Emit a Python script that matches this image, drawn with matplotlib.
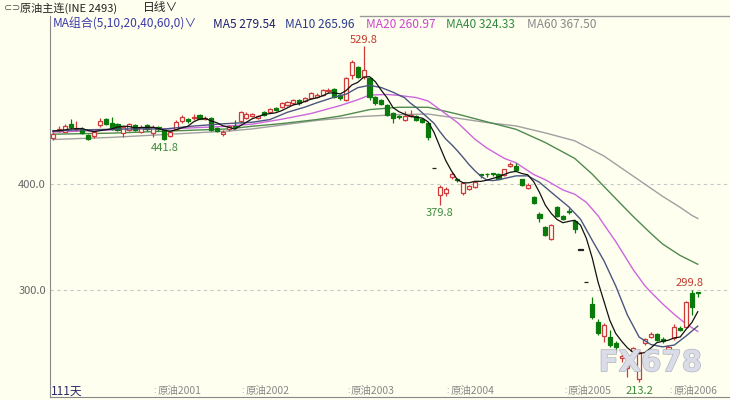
import numpy as np
import matplotlib
matplotlib.use("Agg")
import matplotlib.pyplot as plt
import matplotlib.patheffects as pe

plt.rcParams['font.family'] = ['Noto Sans CJK SC', 'DejaVu Sans']

# daily candles, 111 days (open, close, high, low)
opens = [443, 450, 449.5, 457, 451.5, 452, 446, 445, 455.5, 461,
         457.2, 457, 448, 451, 455.5, 449.5, 455.5, 448, 454, 451,
         445, 452, 459, 461.5, 462, 465, 461.5, 462, 452.5, 447,
         451.5, 455, 459, 462, 464, 462, 468, 468, 471.5, 473,
         474.5, 476, 479, 478.5, 480.8, 482.4, 484, 488, 489.8, 484,
         479.2, 502.8, 510, 500.6, 499.7, 482, 479, 474.5, 466.7, 463.8,
         460.4, 464, 464, 461, 457.2, 415, 389.6, 391.5, 406.3, 405,
         391.2, 395.6, 397.5, 409, 409.5, 410, 409, 408.5, 417, 417,
         404.5, 396, 388, 371.8, 359, 347.8, 378, 369.8, 374.5, 365.4,
         338, 307.5, 286.8, 270.1, 256.6, 255.3, 249.7, 235.5, 226, 242.8,
         216, 249.7, 256, 258.5, 254, 242.8, 254.4, 263.8, 265.4, 296.9,
         298.4]
closes = [447.5, 452, 455, 453.5, 453, 448.5, 442.5, 449, 459, 457,
          452.5, 451, 453.5, 457, 451, 454, 451.5, 454, 451.5, 442.5,
          449, 458.8, 463, 459, 463.5, 461.7, 462.5, 450.9, 450, 449.5,
          454.5, 454, 467.7, 466, 466, 464, 465, 471, 470, 476,
          477.5, 479.2, 476, 481.5, 486, 484, 488.7, 489, 482.4, 480.8,
          499.7, 515.4, 501.3, 507.5, 482.4, 476, 475.5, 465, 462, 463,
          464, 465, 460.4, 458.8, 444.6, 415, 397.5, 395, 409, 403.5,
          400.6, 397.8, 402, 408.5, 409, 409.2, 405, 413.8, 418.5, 413,
          399, 399, 382, 367.7, 352, 361, 370, 367, 373.9, 357.3,
          338, 307.5, 274.2, 259.7, 267, 248.1, 246.5, 237.7, 228, 245,
          241.8, 253.5, 258.5, 252.8, 252, 246.5, 264.8, 262.3, 289, 284.3,
          297.5]
highs = [449, 455, 457, 461, 459, 454, 447, 450, 462, 462,
         463.5, 458, 455, 458, 457, 456, 457, 456, 455, 452,
         450, 460, 465, 462.5, 466, 466, 464, 463, 453.5, 451,
         456, 460, 469, 467.5, 467, 465, 469, 472, 472.5, 477,
         478.5, 480, 480, 482.5, 487, 486, 490, 491, 491, 485,
         501, 517, 511, 529.8, 500.5, 483, 480, 475.5, 467.5, 465,
         469, 470, 465, 462, 458, 415, 399, 397, 411, 406,
         401.5, 399, 403, 409.5, 410, 410.5, 410, 414.5, 421, 420,
         405, 401, 389, 374, 360, 362, 379, 371, 377, 366.5,
         338, 307.5, 293.7, 272.5, 268.5, 262.3, 251.9, 240.9, 236, 245.9,
         243, 255, 260, 259.5, 255.5, 248, 268, 266, 290, 299.8,
         298.5]
lows = [442, 449, 449, 452, 450, 447, 442, 443.5, 454, 456,
        451, 450, 444.6, 450, 450, 448, 450, 444.6, 450, 441.8,
        444, 451, 458, 458, 460, 461, 460, 450, 449, 445.5,
        450, 452, 458, 461, 463, 461, 464, 467, 469, 472,
        473.5, 475, 475, 477.5, 480, 481.5, 483, 486, 481.5, 479.5,
        478, 499, 500, 499, 479, 475, 474.5, 464, 458, 461.5,
        459.5, 463, 459.5, 458, 442, 415, 379.8, 389, 405, 402,
        390, 394, 396.5, 406, 407, 407.5, 404.5, 408, 416, 412,
        398.5, 395, 381.5, 364.5, 351, 347.5, 369, 366, 372, 353.5,
        338, 307.5, 273, 257.5, 251.3, 246.5, 241.8, 232.4, 218, 239.6,
        213.2, 248, 255, 251.5, 250.5, 239.6, 253, 261, 264, 276,
        293]

# moving average lines
ma5_val = [450, 450.5, 451, 452, 452.2, 452.4, 450.5, 449.3, 450.4, 451.2,
           452, 453.7, 454.6, 454.2, 453, 453.3, 453.4, 453.5, 452.4, 450.7,
           449.7, 451.2, 453, 454.5, 458.7, 461.2, 461.9, 459.5, 457.7, 454.9,
           453.5, 451.8, 455.1, 458.3, 461.6, 463.5, 465.7, 466.4, 467.2, 469.2,
           471.9, 474.7, 475.7, 478, 480, 481.3, 483.2, 485.8, 486, 485,
           488.1, 493.5, 495.9, 500.9, 501.3, 496.5, 488.5, 481.3, 472.2, 468.3,
           465.9, 463.8, 462.9, 462.2, 458.6, 448.8, 435.3, 422.2, 412.2, 404,
           401.1, 401.2, 402.6, 402.5, 403.6, 405.3, 406.7, 409.1, 411.1, 411.9,
           409.9, 408.7, 402.3, 392.1, 380, 372.3, 366.5, 363.5, 364.8, 365.8,
           361.2, 348.7, 330.2, 307.3, 289.3, 271.3, 259.1, 251.8, 245.5, 241,
           239.8, 241.2, 245.4, 250.3, 251.7, 252.7, 254.9, 255.7, 262.9, 269.4,
           279.54]
ma10_idx = [0, 4, 9, 14, 19, 24, 29, 34, 37, 40, 43, 45, 48, 50, 52, 54, 56, 58, 60,
            61, 62, 63, 65, 66, 67, 68, 69, 70, 71, 72, 73, 74, 75, 76, 79, 81, 83,
            86, 88, 90, 92, 94, 96, 98, 100, 102, 104, 106, 108, 110]
ma10_val = [450, 451, 451.5, 452.1, 451.9, 454.7, 456.8, 458.3, 460.8, 467.7, 472.6,
            476.6, 482, 484.7, 490.9, 493.1, 491, 486.6, 481.3, 476.2, 472.1, 467.2,
            457.3, 449.5, 442.5, 437.2, 431.3, 424.9, 418.2, 412.4, 407.4, 403.8,
            403.2, 404, 407.7, 407.7, 401.6, 387.6, 378.5, 366.8, 346.9, 327.6,
            303.9, 276.4, 255.6, 248.6, 246.4, 248.1, 256.6, 265.96]
ma20_idx = [0, 10, 19, 29, 34, 39, 44, 49, 52, 54, 57, 59, 62, 64, 66, 69, 72, 74,
            77, 79, 82, 84, 87, 89, 91, 93, 94, 96, 98, 99, 101, 102, 104, 106,
            108, 110]
ma20_val = [449, 451, 451.8, 454.3, 456.5, 461.1, 466.5, 474, 479.5, 483.9, 484.5,
            483.6, 481.5, 478.3, 470.3, 458, 442.2, 434, 424.2, 420, 409, 404,
            394.4, 390.4, 382.7, 370, 361.7, 345.8, 328, 319.1, 303.9, 298, 287,
            277, 268, 260.97]
ma40_idx = [0, 10, 20, 30, 34, 39, 45, 49, 54, 59, 64, 69, 74, 79, 84, 89, 92, 94,
            97, 99, 102, 104, 107, 110]
ma40_val = [447, 448, 450, 452, 454.5, 457, 460.8, 464.1, 470.2, 472.4, 472.4, 466,
            458.7, 451.6, 439.1, 424.2, 409.3, 397.7, 380.6, 369.3, 353.4, 343.4,
            332.6, 324.33]
ma60_idx = [0, 10, 20, 30, 34, 45, 52, 59, 64, 69, 74, 79, 84, 89, 94, 99, 104,
            107, 109, 110]
ma60_val = [442, 444, 447, 450, 452, 460, 463.5, 465.5, 466, 462.1, 458, 454.8,
            448.2, 440.8, 426.4, 407.4, 388.4, 378, 370.4, 367.5]

# contract roll markers on the bottom
roll_days = [18, 33, 51, 68, 88, 106]
roll_names = ["原油2001", "原油2002", "原油2003", "原油2004", "原油2005", "原油2006"]

bg = "#fffff0"
up_col = "#d03a3a"
dn_col = "#0a7a0a"

fig = plt.figure(figsize=(7.3, 4.0), dpi=100, facecolor=bg)
ax = fig.add_axes([50 / 730, 3 / 400, 680 / 730, 381 / 400], facecolor=bg)

n = len(closes)
x = np.arange(n)
o = np.array(opens)
c = np.array(closes)
h = np.array(highs)
l = np.array(lows)

cols = np.where(c > o, up_col, np.where(c < o, dn_col, "#222222"))
ax.vlines(x, l, h, colors=cols, lw=0.9, zorder=3)
body_lo = np.minimum(o, c)
body_h = np.maximum(np.abs(c - o), 0.5)
for i in range(n):
    if c[i] > o[i]:
        ax.bar(x[i], body_h[i], bottom=body_lo[i], width=0.7, facecolor=bg,
               edgecolor=up_col, lw=0.9, zorder=4)
    else:
        ax.bar(x[i], body_h[i], bottom=body_lo[i], width=0.7, facecolor=cols[i],
               edgecolor=cols[i], lw=0.9, zorder=4)

ax.plot(ma60_idx, ma60_val, color="#a0a0a0", lw=1.0, zorder=2)
ax.plot(ma40_idx, ma40_val, color="#4f8a4f", lw=1.0, zorder=2)
ax.plot(ma20_idx, ma20_val, color="#cc66dd", lw=1.0, zorder=2)
ax.plot(ma10_idx, ma10_val, color="#4a5580", lw=1.0, zorder=5)
ax.plot(x, ma5_val, color="#111111", lw=0.9, zorder=5)

ax.set_xlim(-0.51, 115.5)
ax.set_ylim(199.1, 558.5)

for yv in [300, 400]:
    ax.axhline(yv, color="#c8c8c8", lw=0.8, ls=(0, (3, 3)), zorder=1)
ax.set_yticks([300, 400])
ax.set_yticklabels(["300.0", "400.0"], color="#666666", fontsize=8)
ax.tick_params(axis="y", length=0, pad=3)
ax.set_xticks([])
for s in ["top", "right"]:
    ax.spines[s].set_visible(False)
ax.spines["left"].set_color("#888888")
ax.spines["bottom"].set_color("#888888")

# high / low labels
ax.text(53, 531.5, "529.8", color="#c0392b", fontsize=8, ha="center", va="bottom")
ax.text(19, 439, "441.8", color="#3c8a3c", fontsize=8, ha="center", va="top")
ax.text(66, 377, "379.8", color="#3c8a3c", fontsize=8, ha="center", va="top")
ax.text(100, 205, "213.2", color="#3c8a3c", fontsize=8, ha="center", va="center")
ax.text(108.6, 302, "299.8", color="#c0392b", fontsize=8, ha="center", va="bottom")

# bottom labels
for d, name in zip(roll_days, roll_names):
    ax.text(d - 0.6, 205, ":", color="#888888", fontsize=6, ha="center", va="center")
    ax.text(d - 0.2, 205, name, color="#888888", fontsize=7.5, ha="left", va="center")
ax.text(-0.4, 205, "111天", color="#2a2a6a", fontsize=8.5, ha="left", va="center")

ax.text(101.9, 231, "FX678", color="#dadde7", fontsize=21, ha="center", va="center",
        zorder=6, fontweight="bold", family="DejaVu Sans",
        path_effects=[pe.withStroke(linewidth=1.0, foreground="#b0b4c2")])

# header
fig.text(4 / 730, 1 - 8 / 400, "⊂⊃", color="#555555", fontsize=7, va="center",
         family=["DejaVu Sans"])
fig.text(20 / 730, 1 - 8 / 400, "原油主连(INE 2493)", color="#222222", fontsize=8, va="center")
fig.text(143 / 730, 1 - 8 / 400, "日线∨", color="#222222", fontsize=8.5, va="center")
fig.add_artist(plt.Line2D([360 / 730, 1], [1 - 15.5 / 400] * 2, color="#999999", lw=1))

legend_parts = [(53, "MA组合(5,10,20,40,60,0)∨", "#3a3aa8"),
                (213, "MA5 279.54", "#1f1f6e"),
                (285, "MA10 265.96", "#2c3c8c"),
                (366, "MA20 260.97", "#cc44cc"),
                (446, "MA40 324.33", "#2f8a3f"),
                (527, "MA60 367.50", "#888888")]
for px, txt, col in legend_parts:
    fig.text(px / 730, 1 - 24 / 400, txt, color=col, fontsize=8.6, va="center")

fig.savefig("out.png", dpi=100, facecolor=bg)
